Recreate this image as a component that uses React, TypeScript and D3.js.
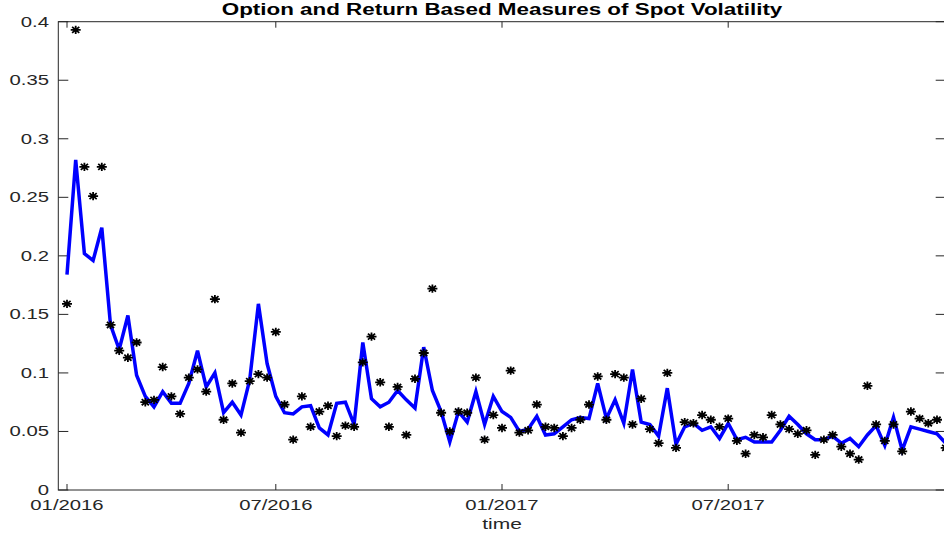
import React, { useEffect, useRef } from 'react';
import * as d3 from 'd3';

// weekly observations, index 0 = first week of 01/2016
const optionVol = [
  0.184, 0.282, 0.202, 0.196, 0.224, 0.141, 0.120, 0.149, 0.098, 0.080,
  0.071, 0.084, 0.074, 0.074, 0.091, 0.119, 0.088, 0.100, 0.066, 0.075,
  0.064, 0.094, 0.159, 0.108, 0.080, 0.066, 0.065, 0.071, 0.072, 0.053,
  0.047, 0.074, 0.075, 0.056, 0.126, 0.078, 0.071, 0.075, 0.085, 0.077,
  0.070, 0.122, 0.085, 0.067, 0.041, 0.067, 0.058, 0.084, 0.056, 0.080,
  0.067, 0.062, 0.050, 0.052, 0.063, 0.047, 0.048, 0.054, 0.060, 0.062,
  0.061, 0.091, 0.061, 0.077, 0.057, 0.103, 0.058, 0.056, 0.046, 0.087,
  0.039, 0.054, 0.057, 0.051, 0.054, 0.044, 0.057, 0.043, 0.045, 0.041,
  0.041, 0.041, 0.051, 0.063, 0.056, 0.048, 0.043, 0.043, 0.046, 0.040,
  0.044, 0.037, 0.047, 0.055, 0.038, 0.062, 0.034, 0.054, 0.052, 0.050,
  0.048, 0.040,
];

const returnVol = [
  0.159, 0.393, 0.276, 0.251, 0.276, 0.141, 0.119, 0.113, 0.126, 0.075,
  0.077, 0.105, 0.080, 0.065, 0.096, 0.103, 0.084, 0.163, 0.060, 0.091,
  0.049, 0.093, 0.099, 0.096, 0.135, 0.073, 0.043, 0.080, 0.054, 0.067,
  0.072, 0.046, 0.055, 0.054, 0.109, 0.131, 0.092, 0.054, 0.088, 0.047,
  0.095, 0.117, 0.172, 0.066, 0.050, 0.067, 0.066, 0.096, 0.043, 0.064,
  0.053, 0.102, 0.049, 0.051, 0.073, 0.054, 0.053, 0.046, 0.053, 0.060,
  0.073, 0.097, 0.060, 0.099, 0.096, 0.056, 0.078, 0.052, 0.040, 0.100,
  0.036, 0.058, 0.057, 0.064, 0.060, 0.054, 0.061, 0.042, 0.031, 0.047,
  0.045, 0.064, 0.056, 0.052, 0.048, 0.051, 0.030, 0.043, 0.047, 0.037,
  0.031, 0.026, 0.089, 0.056, 0.042, 0.056, 0.033, 0.067, 0.061, 0.057,
  0.060, 0.036,
];

const xTickIdx = [0, 24, 50, 76];
const xTickLabels = ['01/2016', '07/2016', '01/2017', '07/2017'];
const yTicks = [0, 0.05, 0.1, 0.15, 0.2, 0.25, 0.3, 0.35, 0.4];

const App = () => {
  const ref = useRef<SVGSVGElement | null>(null);

  useEffect(() => {
    document.body.style.margin = '0';
    const svg = d3.select(ref.current);
    svg.selectAll('*').remove();

    const W = 944;
    const H = 535;
    const left = 58.3, right = 945.7, top = 21.7, bottom = 490;
    const axisColor = '#262626';
    const sx = 1.4; // the figure is stretched horizontally
    const font = '"Liberation Sans", Arial, Helvetica, sans-serif';

    const x = d3.scaleLinear().domain([-1, 101]).range([left, right]);
    const y = d3.scaleLinear().domain([0, 0.4]).range([bottom, top]);

    svg.attr('width', W).attr('height', H);
    svg.append('rect').attr('width', W).attr('height', H).attr('fill', '#fff');

    const label = (tx: number, ty: number, txt: string, size: number, anchor: string, weight = 'normal') =>
      svg
        .append('text')
        .attr('transform', `translate(${tx},${ty}) scale(${sx},1)`)
        .attr('text-anchor', anchor)
        .style('font-family', font)
        .style('font-size', `${size}px`)
        .style('font-weight', weight)
        .attr('fill', weight === 'bold' ? '#000' : axisColor)
        .text(txt);

    // box
    svg
      .append('rect')
      .attr('x', left)
      .attr('y', top)
      .attr('width', right - left)
      .attr('height', bottom - top)
      .attr('fill', 'none')
      .attr('stroke', axisColor)
      .attr('stroke-width', 1);

    // y ticks, both sides
    yTicks.forEach(t => {
      const yy = y(t);
      svg.append('line').attr('x1', left).attr('x2', left + 10).attr('y1', yy).attr('y2', yy)
        .attr('stroke', axisColor);
      svg.append('line').attr('x1', right).attr('x2', right - 10).attr('y1', yy).attr('y2', yy)
        .attr('stroke', axisColor);
      label(49, yy + 5, String(+t.toFixed(2)), 14.5, 'end');
    });

    // x ticks, bottom and top
    xTickIdx.forEach((t, i) => {
      const xx = x(t);
      svg.append('line').attr('x1', xx).attr('x2', xx).attr('y1', bottom).attr('y2', bottom - 6)
        .attr('stroke', axisColor);
      svg.append('line').attr('x1', xx).attr('x2', xx).attr('y1', top).attr('y2', top + 6)
        .attr('stroke', axisColor);
      label(xx, 510, xTickLabels[i], 14.5, 'middle');
    });

    // option based measure
    const line = d3
      .line<number>()
      .x((d, i) => x(i))
      .y(d => y(d));

    svg
      .append('path')
      .datum(optionVol)
      .attr('d', line)
      .attr('fill', 'none')
      .attr('stroke', '#0000ff')
      .attr('stroke-width', 3.5)
      .attr('stroke-linejoin', 'miter');

    // return based measure, '*' markers
    const rx = 5, ry = 4.2;
    const star =
      `M${-rx},0L${rx},0M0,${-ry}L0,${ry}` +
      `M${-rx * 0.72},${-ry * 0.72}L${rx * 0.72},${ry * 0.72}` +
      `M${-rx * 0.72},${ry * 0.72}L${rx * 0.72},${-ry * 0.72}`;

    svg
      .append('g')
      .selectAll('path')
      .data(returnVol)
      .enter()
      .append('path')
      .attr('transform', (d, i) => `translate(${x(i)},${y(d)})`)
      .attr('d', star)
      .attr('fill', 'none')
      .attr('stroke', '#000')
      .attr('stroke-width', 1.8);

    label((left + right) / 2, 529, 'time', 15, 'middle');
    label((left + right) / 2, 15, 'Option and Return Based Measures of Spot Volatility', 16, 'middle', 'bold');
  }, []);

  return <svg ref={ref} style={{ display: 'block' }} />;
};

export default App;
